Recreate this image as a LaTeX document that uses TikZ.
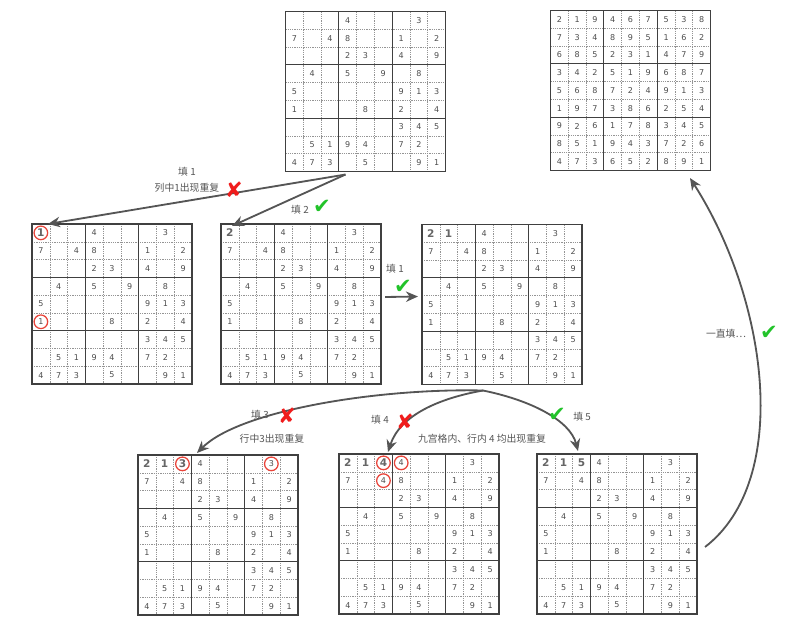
\documentclass[tikz,border=0pt]{standalone}
\usepackage{fontspec}
\setmainfont{DejaVu Sans}
\newfontfamily\cjk{Noto Sans CJK SC}
\newfontfamily\sym{DejaVu Sans}
\usetikzlibrary{arrows.meta, calc}
\definecolor{ink}{HTML}{555555}
\definecolor{okgreen}{HTML}{22C32A}
\definecolor{nored}{HTML}{F01C1C}
\definecolor{ringred}{HTML}{E8443A}
\tikzset{
  gridbox/.style  ={minimum size=4cm, inner sep=0pt, outer sep=0pt},
  boxline/.style  ={draw=black!75, line width=0.9pt},
  cellline/.style ={draw=black!42, line width=0.35pt, dash pattern=on 0.8pt off 0.8pt},
  digit/.style    ={font=\fontsize{5.7}{6}\selectfont, text=black!70, inner sep=0pt},
  given/.style    ={font=\fontsize{7.5}{8}\selectfont\bfseries, text=black!60, inner sep=0pt},
  ring/.style     ={draw=ringred, line width=0.9pt, circle, minimum size=0.34cm, inner sep=0pt},
  arr/.style      ={-{Stealth[length=3mm, width=2.6mm]}, draw=ink, line width=1.3pt},
  lbl/.style      ={font=\cjk\fontsize{7}{8}\selectfont, text=ink, inner sep=1pt},
  okmark/.style   ={font=\sym\fontsize{15}{15}\selectfont, text=okgreen, inner sep=0pt},
  badmark/.style  ={font=\sym\fontsize{15}{15}\selectfont, text=nored, inner sep=0pt},
}
\newcommand\cellsz{17.78}
% the puzzle, 0 = empty cell
\newcommand\puzzlerows{{0,0,0,4,0,0,0,3,0},{7,0,4,8,0,0,1,0,2},{0,0,0,2,3,0,4,0,9},
  {0,4,0,5,0,9,0,8,0},{5,0,0,0,0,0,9,1,3},{1,0,0,0,8,0,2,0,4},
  {0,0,0,0,0,0,3,4,5},{0,5,1,9,4,0,7,2,0},{4,7,3,0,5,0,0,9,1}}
% the solution
\newcommand\solutionrows{{2,1,9,4,6,7,5,3,8},{7,3,4,8,9,5,1,6,2},{6,8,5,2,3,1,4,7,9},
  {3,4,2,5,1,9,6,8,7},{5,6,8,7,2,4,9,1,3},{1,9,7,3,8,6,2,5,4},
  {9,2,6,1,7,8,3,4,5},{8,5,1,9,4,3,7,2,6},{4,7,3,6,5,2,8,9,1}}
\newcommand\sudoku[3]{% name, centre, rows
  \node[gridbox] (#1) at (#2) {};
  \begin{scope}[shift={(#1.north west)}]
    \foreach \i in {1,2,4,5,7,8}
      \draw[cellline] (\i*\cellsz,0) -- (\i*\cellsz,9*\cellsz)
                      (0,\i*\cellsz) -- (9*\cellsz,\i*\cellsz);
    \foreach \i in {3,6}
      \draw[boxline] (\i*\cellsz,0) -- (\i*\cellsz,9*\cellsz)
                     (0,\i*\cellsz) -- (9*\cellsz,\i*\cellsz);
    \foreach \rowdigits [count=\r] in #3
      \foreach \d [count=\c] in \rowdigits
        \node[digit] (#1-\r-\c) at ({(\c-0.5)*\cellsz},{(\r-0.5)*\cellsz})
          {\ifnum\d>0 \d\fi};
  \end{scope}
  \draw[boxline] (#1.north west) rectangle (#1.south east);
}

\begin{document}
\begin{tikzpicture}[x=0.025cm, y=-0.025cm]
  \useasboundingbox (0,0) rectangle (803,632);

  % grids
  \sudoku{g0}{365.5,91.5}{\puzzlerows}
  \sudoku{gend}{630.5,90.5}{\solutionrows}
  \sudoku{g1}{112,304}{\puzzlerows}
  \sudoku{g2}{301,304}{\puzzlerows}
  \sudoku{g3}{502,304.5}{\puzzlerows}
  \sudoku{g4}{218,535}{\puzzlerows}
  \sudoku{g5}{419,534}{\puzzlerows}
  \sudoku{g6}{617,534}{\puzzlerows}

  % filled-in guesses
  \node[given] (b11) at (g1-1-1) {1};
  \node[given] (b21) at (g2-1-1) {2};
  \node[given] (b31) at (g3-1-1) {2};
  \node[given] (b32) at (g3-1-2) {1};
  \node[given] (b41) at (g4-1-1) {2};
  \node[given] (b42) at (g4-1-2) {1};
  \node[given] (b43) at (g4-1-3) {3};
  \node[given] (b51) at (g5-1-1) {2};
  \node[given] (b52) at (g5-1-2) {1};
  \node[given] (b53) at (g5-1-3) {4};
  \node[given] (b61) at (g6-1-1) {2};
  \node[given] (b62) at (g6-1-2) {1};
  \node[given] (b63) at (g6-1-3) {5};

  % clashes
  \node[ring] (c11) at (g1-1-1) {};
  \node[ring] (c12) at (g1-6-1) {};
  \node[ring] (c41) at (g4-1-3) {};
  \node[ring] (c42) at (g4-1-8) {};
  \node[ring] (c51) at (g5-1-3) {};
  \node[ring] (c52) at (g5-1-4) {};
  \node[ring] (c53) at (g5-2-3) {};

  % arrows
  \coordinate (fork1) at ($(g0.south)+(-20,3)$);
  \coordinate (fork2) at ($(g3.south)+(-19,6)$);
  \draw[arr] (fork1) -- ($(g1.north west)+(16,0)$);
  \draw[arr] (fork1) -- ($(g2.north west)+(11,2)$);
  \draw[arr] ($(g2.east)+(4,-7)$) -- ($(g3.west)+(-4,-8)$);
  \draw[arr] (fork2) .. controls (380,388) and (240,410) .. ($(g4.north)+(-21,-2)$);
  \draw[arr] (fork2) .. controls (440,398) and (400,415) .. ($(g5.north)+(-31,-2)$);
  \draw[arr] (fork2) .. controls (530,400) and (570,420) .. ($(g6.north)+(-39,-3)$);
  \draw[arr] ($(g6.east)+(8,13)$) .. controls (792,480) and (768,300) .. ($(gend.south)+(59.5,7.5)$);

  % labels
  \node[lbl] (l1)    at (187,172) {填 1};
  \node[lbl] (l1why) at (187,188) {列中1出现重复};
  \node[badmark] (x1) at (234,190) {✘};
  \node[lbl] (l2)    at (300,210) {填 2};
  \node[okmark] (v2) at (322,207) {✔};
  \node[lbl] (l3)    at (395,269) {填 1};
  \node[okmark] (v3) at (403,287) {✔};
  \node[lbl] (l4)    at (260,415) {填 3};
  \node[badmark] (x4) at (287,416) {✘};
  \node[lbl] (l4why) at (272,439) {行中3出现重复};
  \node[lbl] (l5)    at (380,420) {填 4};
  \node[badmark] (x5) at (405,422) {✘};
  \node[lbl] (l5why) at (482,439) {九宫格内、行内 4 均出现重复};
  \node[okmark] (v6) at (557,415) {✔};
  \node[lbl] (l6)    at (582,417) {填 5};
  \node[lbl] (l7)    at (726,334) {一直填…};
  \node[okmark] (v7) at (769,333) {✔};
\end{tikzpicture}
\end{document}
